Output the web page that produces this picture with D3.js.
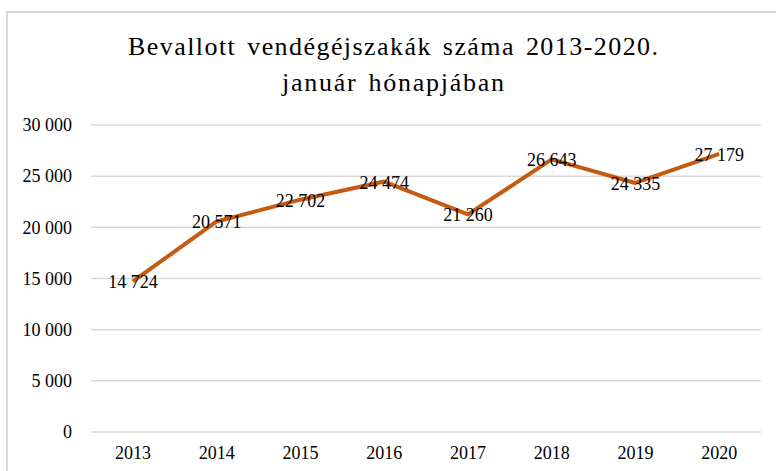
<!DOCTYPE html>
<html>
<head>
    <meta charset="UTF-8">
    <script src="https://cdnjs.cloudflare.com/ajax/libs/d3/7.8.5/d3.min.js"></script>
    <style>
        body { margin: 0; background: #fff; }
    </style>
</head>
<body>
<svg id="chart" width="776" height="471"></svg>
<script>
    const years = ['2013', '2014', '2015', '2016', '2017', '2018', '2019', '2020'];
    const nights = [14724, 20571, 22702, 24474, 21260, 26643, 24335, 27179];
    const yTicks = [0, 5000, 10000, 15000, 20000, 25000, 30000];
    const titleLines = ['Bevallott vendégéjszakák száma 2013-2020.', 'január hónapjában'];

    const serif = 'Liberation Serif';
    const svg = d3.select('#chart').attr('font-family', serif);
    const fmt = v => d3.format(',')(v).replace(/,/g, ' ');

    // chart area frame (only top and left edges visible)
    svg.append('path')
        .attr('d', 'M7,480 V12 H790')
        .attr('fill', 'none')
        .attr('stroke', '#d9d9d9')
        .attr('stroke-width', 2);

    const titleWidths = [530, 222];
    svg.selectAll('.title').data(titleLines).enter()
        .append('text')
        .attr('class', 'title')
        .attr('x', 393)
        .attr('y', (d, i) => 55 + i * 36)
        .attr('text-anchor', 'middle')
        .attr('font-family', serif)
        .attr('font-size', 26)
        .attr('word-spacing', 3)
        .attr('textLength', (d, i) => titleWidths[i])
        .attr('lengthAdjust', 'spacing')
        .text(d => d);

    const x = d3.scaleBand().domain(years).range([91, 761]);
    const y = d3.scaleLinear().domain([0, 30000]).range([432, 125]);

    // gridlines
    svg.append('g')
        .selectAll('line').data(yTicks).enter()
        .append('line')
        .attr('x1', 91).attr('x2', 761)
        .attr('y1', d => y(d)).attr('y2', d => y(d))
        .attr('stroke', '#d9d9d9')
        .attr('stroke-width', 1.5);

    const yAxis = svg.append('g')
        .attr('transform', 'translate(91,0)')
        .call(d3.axisLeft(y).tickValues(yTicks).tickFormat(fmt).tickSize(0).tickPadding(19));
    yAxis.select('.domain').remove();
    yAxis.attr('font-family', serif).attr('font-size', 18);
    yAxis.selectAll('text').attr('fill', '#000');

    const xAxis = svg.append('g')
        .attr('transform', 'translate(0,432)')
        .call(d3.axisBottom(x).tickSize(0).tickPadding(14));
    xAxis.select('.domain').remove();
    xAxis.attr('font-family', serif).attr('font-size', 18);
    xAxis.selectAll('text').attr('fill', '#000');

    const cx = (d, i) => x(years[i]) + x.bandwidth() / 2;

    svg.append('path')
        .datum(nights)
        .attr('fill', 'none')
        .attr('stroke', '#c55a11')
        .attr('stroke-width', 4)
        .attr('stroke-linejoin', 'round')
        .attr('d', d3.line().x(cx).y(d => y(d)));

    svg.selectAll('.lbl').data(nights).enter()
        .append('text')
        .attr('class', 'lbl')
        .attr('x', cx)
        .attr('y', d => y(d) + 7)
        .attr('text-anchor', 'middle')
        .attr('font-family', serif)
        .attr('font-size', 18)
        .text(fmt);
</script>
</body>
</html>
